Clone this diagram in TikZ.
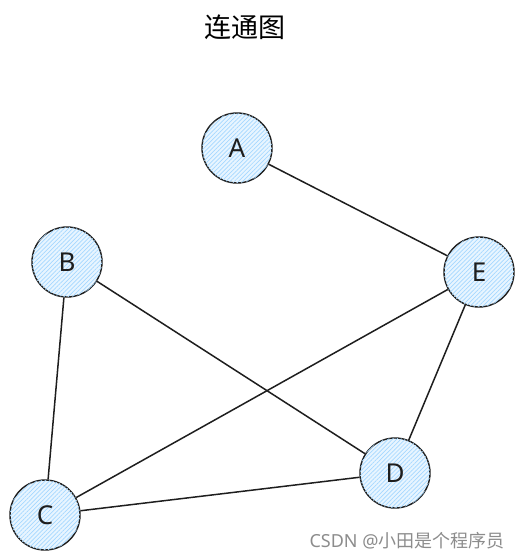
\documentclass[tikz,border=0pt]{standalone}
\usepackage{fontspec}
\setmainfont{Noto Sans}
\newfontfamily\cjk{Noto Sans CJK SC}
\usetikzlibrary{patterns.meta}
\definecolor{hatch}{HTML}{A5D8FF}
\definecolor{ink}{HTML}{1E1E1E}
\begin{document}
\begin{tikzpicture}[x=1pt,y=-1pt,
  vertex/.style={circle,draw=ink,line width=1.4pt,minimum size=70pt,inner sep=0pt,
    fill=hatch!25,
    postaction={pattern={Lines[angle=45,distance=3pt,line width=0.7pt]},pattern color=hatch},
    font=\fontsize{26}{26}\selectfont,text=ink}]
\useasboundingbox (0,0) rectangle (529,560);
% title
\node (title) at (245,27) {\cjk\fontsize{27}{27}\selectfont 连通图};
% vertices
\node[vertex] (A) at (237,148) {A};
\node[vertex] (B) at (67,262) {B};
\node[vertex] (E) at (479,272) {E};
\node[vertex] (D) at (395,473) {D};
\node[vertex] (C) at (45,515) {C};

\path[draw=ink,line width=1.5pt]
(A) edge (E)
(B) edge (C)
(B) edge (D)
(C) edge (E)
(C) edge (D)
(D) edge (E);

% watermark
\node[text=black!45,anchor=east] (mark) at (508,541) {\fontsize{18}{18}\selectfont CSDN @\cjk 小田是个程序员};
\end{tikzpicture}
\end{document}
